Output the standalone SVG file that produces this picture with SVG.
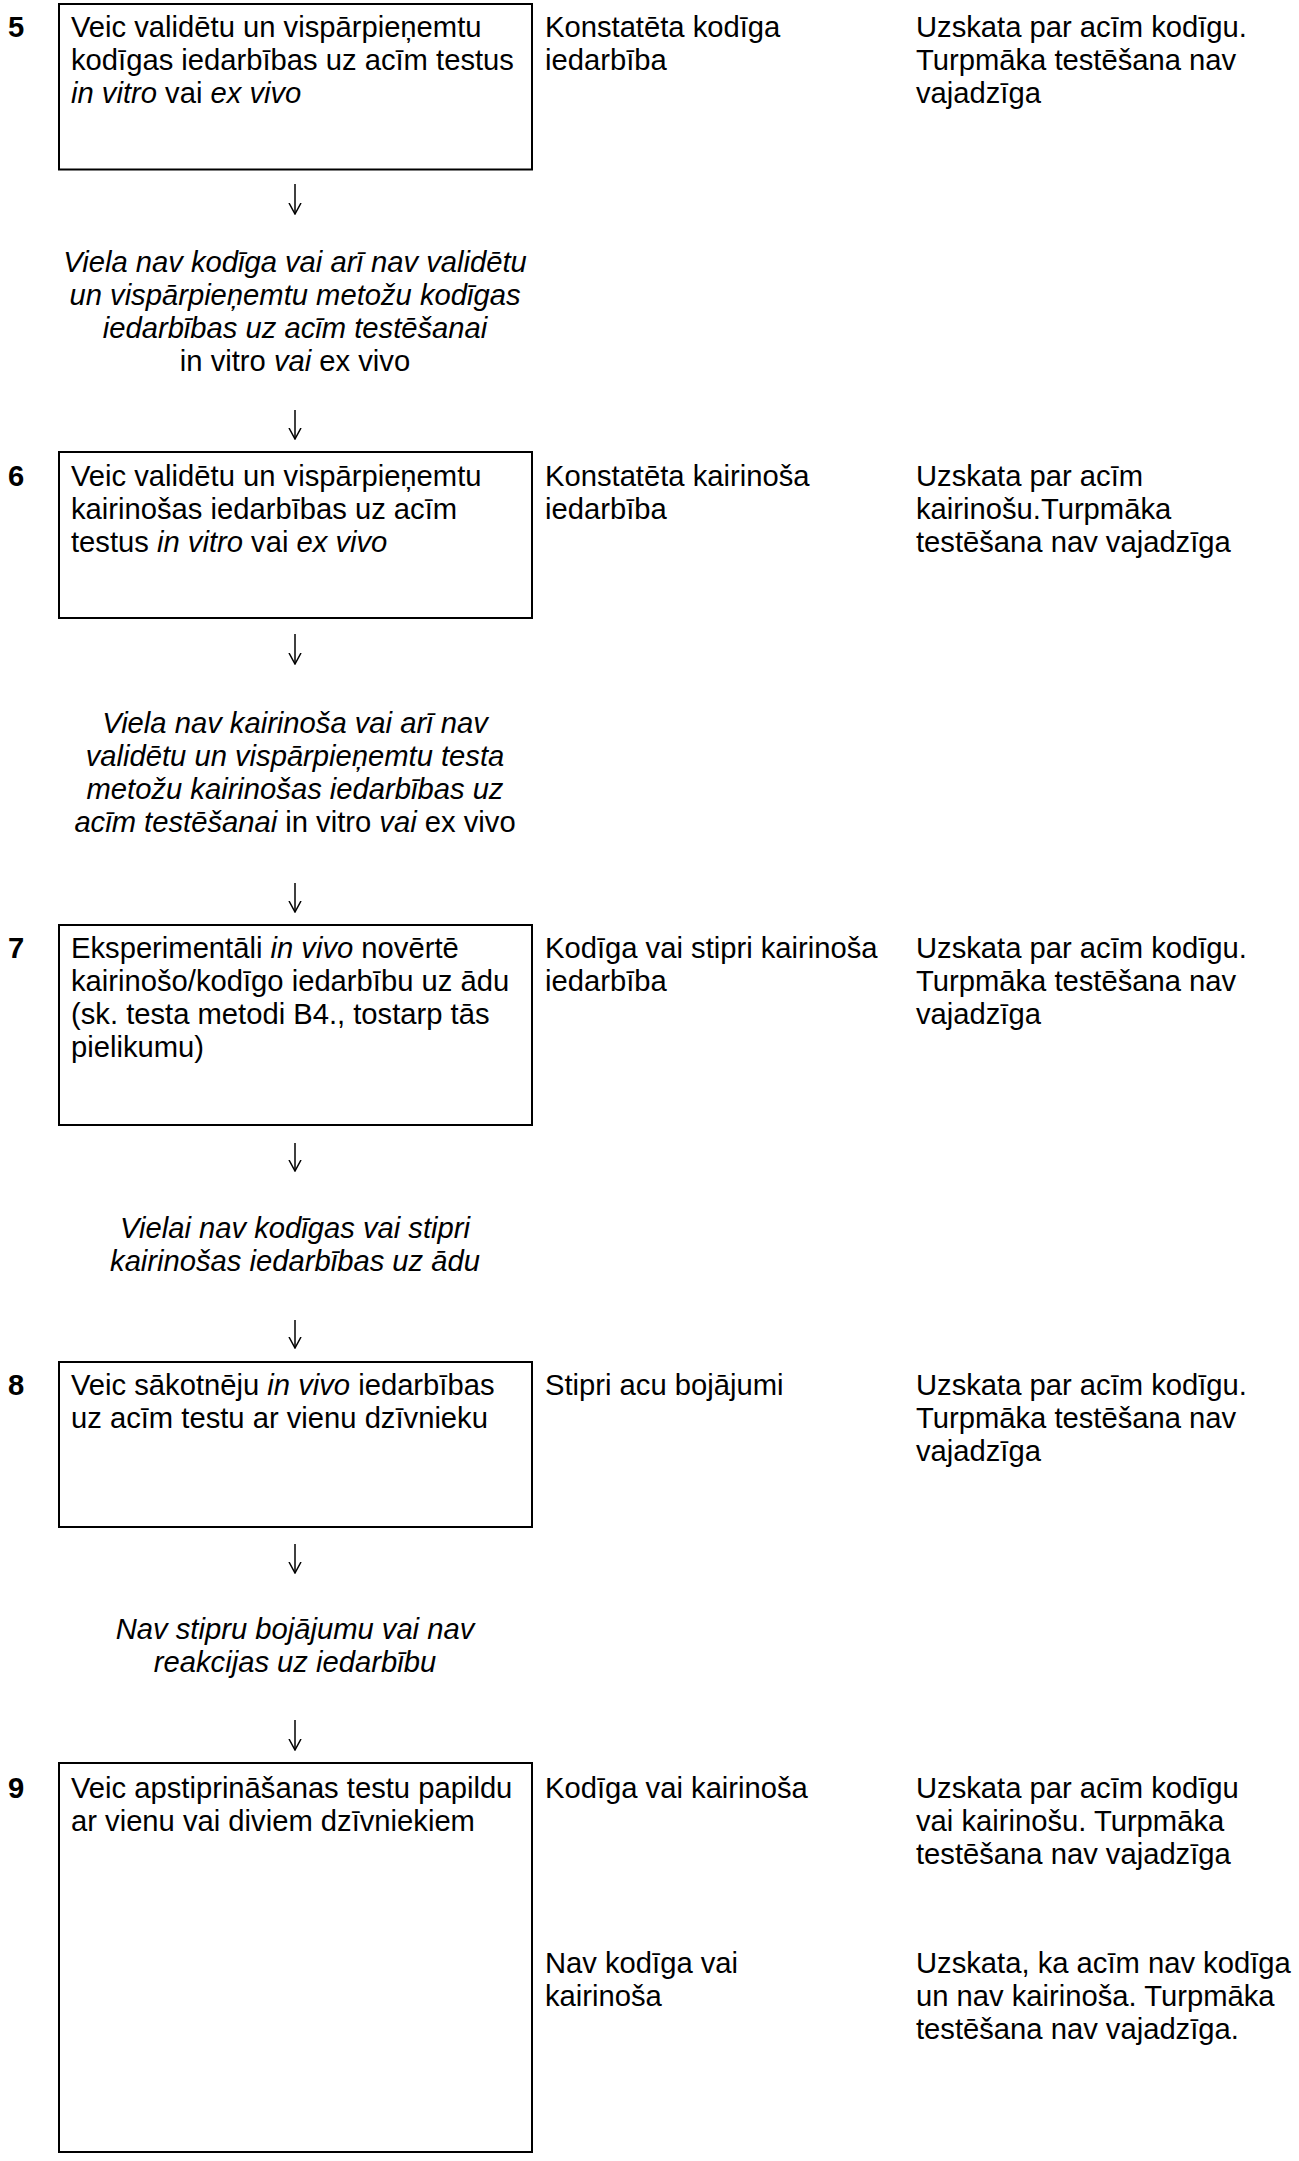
<svg xmlns="http://www.w3.org/2000/svg" width="1299" height="2161" viewBox="0 0 1299 2161">
<style>
.t{font-family:"Liberation Sans",Arial,sans-serif;font-size:29.2px;fill:#000}
.i{font-style:italic}
.n{font-style:normal}
.b{font-weight:bold}
.c{text-anchor:middle}
.box{fill:none;stroke:#000;stroke-width:2}
.arr{fill:none;stroke:#000;stroke-width:1.5}
</style>
<defs>
<marker id="ah" markerUnits="userSpaceOnUse" viewBox="0 0 12 14" refX="11" refY="7" markerWidth="12" markerHeight="14" orient="auto">
<path d="M0,1 L11,7 L0,13" fill="none" stroke="#000" stroke-width="1.5"/>
</marker>
</defs>
<rect width="1299" height="2161" fill="#fff"/>

<g id="connectors">
<line class="arr" x1="295" y1="184" x2="295" y2="214" marker-end="url(#ah)"/>
<line class="arr" x1="295" y1="410" x2="295" y2="439" marker-end="url(#ah)"/>
<line class="arr" x1="295" y1="634" x2="295" y2="664" marker-end="url(#ah)"/>
<line class="arr" x1="295" y1="883" x2="295" y2="912" marker-end="url(#ah)"/>
<line class="arr" x1="295" y1="1143" x2="295" y2="1171" marker-end="url(#ah)"/>
<line class="arr" x1="295" y1="1320" x2="295" y2="1348" marker-end="url(#ah)"/>
<line class="arr" x1="295" y1="1544" x2="295" y2="1573" marker-end="url(#ah)"/>
<line class="arr" x1="295" y1="1720" x2="295" y2="1750" marker-end="url(#ah)"/>
</g>

<g id="step5">
<rect class="box" x="59" y="4" width="473" height="165.5"/>
<text class="t b" x="8" y="37">5</text>
<text class="t" x="71" y="37">Veic validētu un vispārpieņemtu</text>
<text class="t" x="71" y="70">kodīgas iedarbības uz acīm testus</text>
<text class="t" x="71" y="103"><tspan class="i">in vitro</tspan> vai <tspan class="i">ex vivo</tspan></text>
<text class="t" x="545" y="37">Konstatēta kodīga</text>
<text class="t" x="545" y="70">iedarbība</text>
<text class="t" x="916" y="37">Uzskata par acīm kodīgu.</text>
<text class="t" x="916" y="70">Turpmāka testēšana nav</text>
<text class="t" x="916" y="103">vajadzīga</text>
</g>

<g id="cond5">
<text class="t i c" x="295" y="272">Viela nav kodīga vai arī nav validētu</text>
<text class="t i c" x="295" y="305">un vispārpieņemtu metožu kodīgas</text>
<text class="t i c" x="295" y="338">iedarbības uz acīm testēšanai</text>
<text class="t c" x="295" y="371">in vitro <tspan class="i">vai</tspan> ex vivo</text>
</g>

<g id="step6">
<rect class="box" x="59" y="452" width="473" height="166"/>
<text class="t b" x="8" y="486">6</text>
<text class="t" x="71" y="486">Veic validētu un vispārpieņemtu</text>
<text class="t" x="71" y="519">kairinošas iedarbības uz acīm</text>
<text class="t" x="71" y="552">testus <tspan class="i">in vitro</tspan> vai <tspan class="i">ex vivo</tspan></text>
<text class="t" x="545" y="486">Konstatēta kairinoša</text>
<text class="t" x="545" y="519">iedarbība</text>
<text class="t" x="916" y="486">Uzskata par acīm</text>
<text class="t" x="916" y="519">kairinošu.Turpmāka</text>
<text class="t" x="916" y="552">testēšana nav vajadzīga</text>
</g>

<g id="cond6">
<text class="t i c" x="295" y="733">Viela nav kairinoša vai arī nav</text>
<text class="t i c" x="295" y="766">validētu un vispārpieņemtu testa</text>
<text class="t i c" x="295" y="799">metožu kairinošas iedarbības uz</text>
<text class="t i c" x="295" y="832">acīm testēšanai <tspan class="n">in vitro</tspan> vai <tspan class="n">ex vivo</tspan></text>
</g>

<g id="step7">
<rect class="box" x="59" y="925" width="473" height="200"/>
<text class="t b" x="8" y="958">7</text>
<text class="t" x="71" y="958">Eksperimentāli <tspan class="i">in vivo</tspan> novērtē</text>
<text class="t" x="71" y="991">kairinošo/kodīgo iedarbību uz ādu</text>
<text class="t" x="71" y="1024">(sk. testa metodi B4., tostarp tās</text>
<text class="t" x="71" y="1057">pielikumu)</text>
<text class="t" x="545" y="958">Kodīga vai stipri kairinoša</text>
<text class="t" x="545" y="991">iedarbība</text>
<text class="t" x="916" y="958">Uzskata par acīm kodīgu.</text>
<text class="t" x="916" y="991">Turpmāka testēšana nav</text>
<text class="t" x="916" y="1024">vajadzīga</text>
</g>

<g id="cond7">
<text class="t i c" x="295" y="1238">Vielai nav kodīgas vai stipri</text>
<text class="t i c" x="295" y="1271">kairinošas iedarbības uz ādu</text>
</g>

<g id="step8">
<rect class="box" x="59" y="1362" width="473" height="165"/>
<text class="t b" x="8" y="1395">8</text>
<text class="t" x="71" y="1395">Veic sākotnēju <tspan class="i">in vivo</tspan> iedarbības</text>
<text class="t" x="71" y="1428">uz acīm testu ar vienu dzīvnieku</text>
<text class="t" x="545" y="1395">Stipri acu bojājumi</text>
<text class="t" x="916" y="1395">Uzskata par acīm kodīgu.</text>
<text class="t" x="916" y="1428">Turpmāka testēšana nav</text>
<text class="t" x="916" y="1461">vajadzīga</text>
</g>

<g id="cond8">
<text class="t i c" x="295" y="1639">Nav stipru bojājumu vai nav</text>
<text class="t i c" x="295" y="1672">reakcijas uz iedarbību</text>
</g>

<g id="step9">
<rect class="box" x="59" y="1763" width="473" height="389"/>
<text class="t b" x="8" y="1798">9</text>
<text class="t" x="71" y="1798">Veic apstiprināšanas testu papildu</text>
<text class="t" x="71" y="1831">ar vienu vai diviem dzīvniekiem</text>
<text class="t" x="545" y="1798">Kodīga vai kairinoša</text>
<text class="t" x="916" y="1798">Uzskata par acīm kodīgu</text>
<text class="t" x="916" y="1831">vai kairinošu. Turpmāka</text>
<text class="t" x="916" y="1864">testēšana nav vajadzīga</text>
<text class="t" x="545" y="1973">Nav kodīga vai</text>
<text class="t" x="545" y="2006">kairinoša</text>
<text class="t" x="916" y="1973">Uzskata, ka acīm nav kodīga</text>
<text class="t" x="916" y="2006">un nav kairinoša. Turpmāka</text>
<text class="t" x="916" y="2039">testēšana nav vajadzīga.</text>
</g>
</svg>
